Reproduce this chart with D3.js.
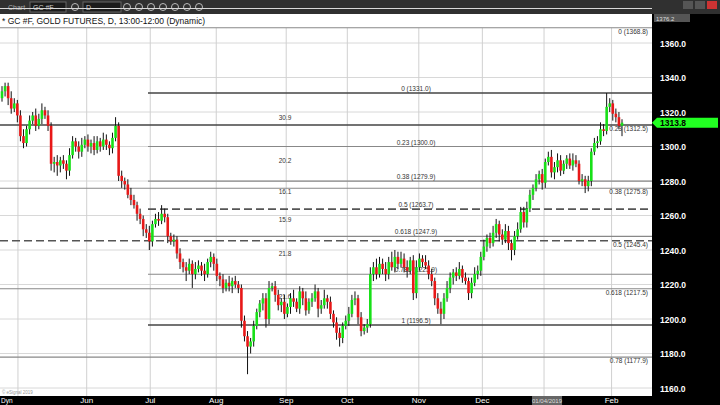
<!DOCTYPE html>
<html><head><meta charset="utf-8">
<script src="https://cdn.jsdelivr.net/npm/d3@7"></script>
<style>body{margin:0;background:#000;}svg{display:block;font-family:"Liberation Sans",Arial,sans-serif;}</style>
</head><body>
<script>
// daily closes, GC #F
var closes = [1332,1335,1328,1322,1325,1318,1306,1302,1310,1315,
  1318,1312,1316,1321,1318,1312,1290,1291,1289,1292,
  1290,1286,1295,1303,1300,1297,1301,1304,1300,1302,
  1298,1303,1300,1304,1301,1299,1305,1312,1283,1280,
  1278,1272,1269,1266,1261,1258,1252,1250,1245,1255,
  1258,1257,1261,1259,1248,1245,1246,1238,1233,1230,
  1228,1232,1226,1229,1231,1228,1226,1233,1236,1232,
  1225,1223,1218,1221,1219,1222,1220,1218,1199,1190,
  1184,1187,1196,1204,1209,1212,1200,1218,1219,1214,
  1208,1210,1203,1207,1212,1210,1206,1216,1212,1205,
  1210,1212,1216,1206,1208,1212,1210,1203,1198,1192,
  1189,1196,1199,1203,1211,1212,1201,1193,1195,1197,
  1226,1230,1226,1232,1229,1226,1233,1230,1236,1232,
  1235,1230,1228,1234,1215,1230,1235,1233,1231,1226,
  1222,1212,1206,1203,1212,1218,1224,1227,1225,1229,
  1224,1222,1215,1221,1226,1228,1236,1242,1247,1244,
  1250,1255,1249,1246,1251,1244,1240,1248,1252,1262,
  1256,1264,1272,1276,1281,1284,1279,1291,1294,1285,
  1288,1292,1286,1290,1293,1289,1292,1290,1280,1281,
  1277,1280,1297,1302,1303,1310,1309,1323,1325,1319,
  1317,1312,1313.8];
var firstOpen = 1328;
// wick extents above / below the body, in dollars
var wickUp = [3,2,2,4,3,2,3,4,2,3, 2,4,3,4,2,3,2,3,4,2, 3,2,4,3,2,3,4,2,3,2,
  4,3,2,4,3,2,3,5,2,3, 2,3,4,3,2,3,2,3,4,2, 3,4,5,3,2,2,3,2,3,2,
  3,3,2,4,3,2,4,2,3,2, 3,2,3,2,4,2,3,2,2,3, 3,2,3,2,2,3,3,4,2,3,
  3,2,4,2,3,5,2,3,2,4, 2,3,4,2,3,5,2,3,2,3, 3,2,3,4,3,4,2,3,2,3,
  4,3,5,4,3,4,3,6,4,3, 4,3,4,2,3,4,3,2,4,3, 3,2,3,4,3,4,3,2,3,4,
  2,3,2,3,4,3,3,4,2,3, 4,3,2,3,4,3,2,3,4,3, 3,4,3,2,3,2,3,2,3,4,
  3,4,3,2,2,3,4,3,2,3, 2,3,2,3,3,4,3,8,3,2, 3,3,2];
var wickDn = [2,3,4,3,2,4,3,3,2,3, 2,3,2,3,2,3,4,5,6,4, 3,5,3,2,3,4,3,2,3,4,
  3,2,3,2,3,4,3,2,3,4, 3,2,3,2,4,3,4,3,5,3, 2,3,2,3,4,2,3,3,4,3,
  6,2,8,3,2,3,4,2,3,4, 3,4,3,2,3,4,2,3,4,3, 16,4,3,2,3,4,5,3,2,4,
  3,4,3,2,4,3,2,3,4,3, 2,3,2,5,3,2,4,3,3,4, 5,3,2,3,2,3,4,3,2,3,
  2,4,3,2,3,4,3,2,3,3, 2,3,4,2,4,3,2,3,2,3, 3,4,3,6,3,2,3,4,3,2,
  3,2,4,3,2,3,3,2,3,3, 2,3,4,3,2,4,6,3,2,2, 3,3,2,3,2,3,4,3,2,3,
  4,3,3,2,3,2,3,2,2,3, 4,3,3,2,3,2,3,2,3,4, 3,2,6];
// month ticks: bar index where each month starts
var monthIdx = [5.2, 27.6, 48.3, 69.8, 92.6, 112.5, 135.8, 156.5, 176.6, 198.6];
var monthLbl = ["", "Jun", "Jul", "Aug", "Sep", "Oct", "Nov", "Dec", "", "Feb"];
var priceTicks = [1360,1340,1320,1300,1280,1260,1240,1220,1200,1180,1160];
// retracement from the 1196.5 low to the 1331.0 high (drawn from July)
var fibA = [{lvl:"0", p:1331.0, dark:true}, {lvl:"0.23", p:1300.0}, {lvl:"0.38", p:1279.9},
  {lvl:"0.5", p:1263.7, dash:true}, {lvl:"0.618", p:1247.9}, {lvl:"0.786", p:1225.9}, {lvl:"1", p:1196.5, dark:true}];
// full-width retracement
var fibB = [{lvl:"0", p:1368.8}, {lvl:"0.23", p:1312.5, dark:true}, {lvl:"0.38", p:1275.8},
  {lvl:"0.5", p:1245.4, dash:true}, {lvl:"0.618", p:1217.5}, {lvl:"0.78", p:1177.9}];
var spans = ["30.9","20.2","16.1","15.9","21.8","21.6"];
var spanP = [1315.5, 1290.5, 1272.5, 1256, 1236.5, 1211.5];

var W = 720, H = 405, plotR = 652, plotT = 28, plotB = 396;
var svg = d3.select("body").append("svg").attr("width", W).attr("height", H);
var x = d3.scaleLinear().domain([0, 202]).range([2, 622]);
var y = d3.scaleLinear().domain([1160, 1360]).range([388, 43]);

svg.append("rect").attr("width", W).attr("height", H).attr("fill", "#000");
svg.append("rect").attr("x", 0).attr("y", plotT).attr("width", plotR).attr("height", plotB - plotT).attr("fill", "#fff");
// top toolbar
svg.append("rect").attr("width", W).attr("height", 14).attr("fill", "#303030");
svg.append("rect").attr("x", 0).attr("y", 14).attr("width", plotR).attr("height", 14).attr("fill", "#fff");
svg.append("text").attr("x", 8).attr("y", 10).attr("fill", "#aaa").attr("font-size", 7).text("Chart");
[[30, 36, "GC #F"], [83, 38, "D"]].forEach(function(b) {
  svg.append("rect").attr("x", b[0]).attr("y", 2).attr("width", b[1]).attr("height", 10).attr("fill", "#1b1b1b").attr("stroke", "#666");
  svg.append("text").attr("x", b[0] + 3).attr("y", 10).attr("fill", "#ccc").attr("font-size", 7).text(b[2]);
});
[75, 127, 139, 151, 163, 175, 187, 199].forEach(function(cx) {
  svg.append("circle").attr("cx", cx).attr("cy", 7).attr("r", 3.5).attr("fill", "none").attr("stroke", "#bbb");
});
[[688, "#555"], [700, "#555"], [712, "#c33"]].forEach(function(b) {
  svg.append("rect").attr("x", b[0] - 5).attr("y", 1).attr("width", 10).attr("height", 8).attr("fill", b[1]);
});
svg.append("text").attr("x", 2).attr("y", 24).attr("font-size", 8.5).attr("fill", "#111").text("* GC #F, GOLD FUTURES, D, 13:00-12:00 (Dynamic)");

// grid
var g = svg.append("g");
g.selectAll(".hg").data(priceTicks.concat([1380])).enter().append("line")
  .attr("x1", 0).attr("x2", plotR).attr("y1", function(d){ return y(d); }).attr("y2", function(d){ return y(d); })
  .attr("stroke", "#d8d8d8").attr("stroke-width", 1);
g.selectAll(".vg").data(monthIdx).enter().append("line")
  .attr("x1", function(d){ return x(d); }).attr("x2", function(d){ return x(d); })
  .attr("y1", plotT).attr("y2", plotB).attr("stroke", "#d0d0d0");

// fib lines
function fibLine(d, x1) {
  g.append("line").attr("x1", x1).attr("x2", plotR).attr("y1", y(d.p)).attr("y2", y(d.p))
    .attr("stroke", d.dark ? "#444" : (d.dash ? "#555" : "#888"))
    .attr("stroke-width", d.dark || d.dash ? 1.6 : 1.1)
    .attr("stroke-dasharray", d.dash ? "8,4" : null);
}
fibB.forEach(function(d){ fibLine(d, 0); });
fibA.forEach(function(d){ fibLine(d, 148); });
svg.selectAll(".fa").data(fibA).enter().append("text")
  .attr("x", 416).attr("y", function(d){ return y(d.p) - 2; }).attr("text-anchor", "middle")
  .attr("font-size", 6.5).attr("fill", "#333").text(function(d){ return d.lvl + " (" + d.p.toFixed(1) + ")"; });
svg.selectAll(".fb").data(fibB).enter().append("text")
  .attr("x", 648).attr("y", function(d){ return y(d.p) + 6; }).attr("text-anchor", "end")
  .attr("font-size", 6.5).attr("fill", "#333").text(function(d){ return d.lvl + " (" + d.p.toFixed(1) + ")"; });
svg.selectAll(".sp").data(spans).enter().append("text")
  .attr("x", 285).attr("y", function(d, i){ return y(spanP[i]); }).attr("text-anchor", "middle")
  .attr("font-size", 6.5).attr("fill", "#333").text(function(d){ return d; });

// candles
var bars = closes.map(function(c, i) {
  var o = i === 0 ? firstOpen : closes[i - 1];
  return {i: i, o: o, c: c, h: Math.max(o, c) + wickUp[i], l: Math.min(o, c) - wickDn[i]};
});
var cg = svg.append("g");
cg.selectAll(".wick").data(bars).enter().append("line")
  .attr("x1", function(d){ return x(d.i); }).attr("x2", function(d){ return x(d.i); })
  .attr("y1", function(d){ return y(d.h); }).attr("y2", function(d){ return y(d.l); })
  .attr("stroke", "#111").attr("stroke-width", 1);
cg.selectAll(".body").data(bars).enter().append("rect")
  .attr("x", function(d){ return x(d.i) - 1.3; }).attr("width", 2.6)
  .attr("y", function(d){ return y(Math.max(d.o, d.c)); })
  .attr("height", function(d){ return Math.max(1, Math.abs(y(d.o) - y(d.c))); })
  .attr("fill", function(d){ return d.c >= d.o ? "#18e018" : "#e81818"; });

// right price axis
svg.selectAll(".pl").data(priceTicks).enter().append("text")
  .attr("x", 660).attr("y", function(d){ return y(d) + 3.5; })
  .attr("fill", "#fff").attr("font-size", 8.5).attr("font-weight", "bold").text(function(d){ return d.toFixed(1); });
svg.append("rect").attr("x", 654).attr("y", 14).attr("width", 36).attr("height", 8).attr("fill", "#555");
svg.append("text").attr("x", 656).attr("y", 20.5).attr("fill", "#ddd").attr("font-size", 6).text("1376.2");
var last = closes[closes.length - 1];
svg.append("path").attr("d", "M652," + y(last) + "l5,-5h61v10h-61z").attr("fill", "#22ff22");
svg.append("text").attr("x", 660).attr("y", y(last) + 3.5).attr("fill", "#000").attr("font-size", 8.5).attr("font-weight", "bold").text(last.toFixed(1));

// bottom axis
svg.selectAll(".ml").data(monthIdx).enter().append("text")
  .attr("x", function(d){ return x(d); }).attr("y", 403).attr("text-anchor", "middle")
  .attr("fill", "#fff").attr("font-size", 8).text(function(d, i){ return monthLbl[i]; });
svg.append("rect").attr("x", x(176.6) - 12).attr("y", 396).attr("width", 30).attr("height", 9).attr("fill", "#666");
svg.append("text").attr("x", x(176.6) + 3).attr("y", 403).attr("text-anchor", "middle").attr("fill", "#ddd").attr("font-size", 6).text("01/04/2019");
svg.append("text").attr("x", 1).attr("y", 403).attr("fill", "#fff").attr("font-size", 6.5).text("Dyn");
svg.append("text").attr("x", 2).attr("y", 394).attr("fill", "#999").attr("font-size", 4.5).text("© eSignal 2019");
</script>
</body></html>
